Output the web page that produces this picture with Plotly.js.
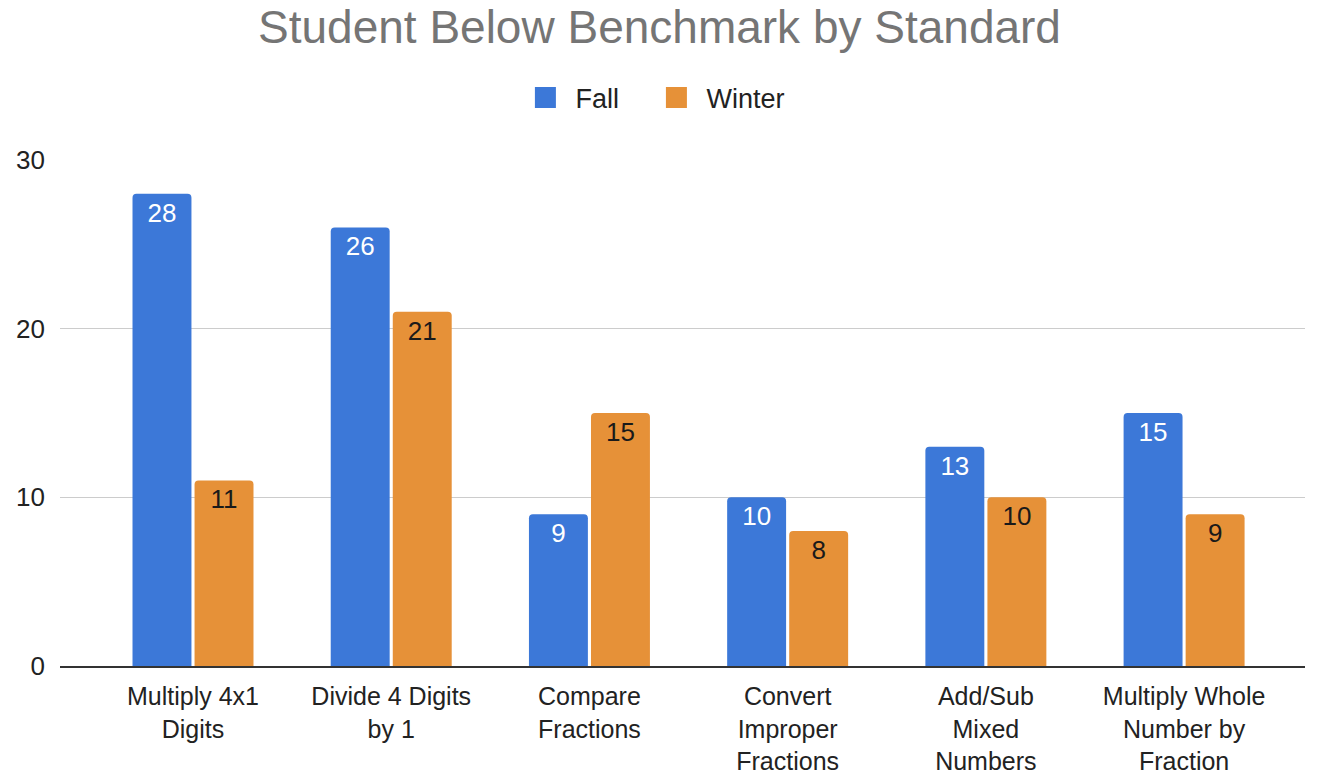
<!DOCTYPE html>
<html>
<head>
<meta charset="utf-8">
<script src="https://cdn.plot.ly/plotly-3.0.1.min.js"></script>
<style>html,body{margin:0;padding:0;background:#fff;}#chart{width:1319px;height:777px;}</style>
</head>
<body>
<div id="chart"></div>
<script>
const categories = [
  "Multiply 4x1<br>Digits",
  "Divide 4 Digits<br>by 1",
  "Compare<br>Fractions",
  "Convert<br>Improper<br>Fractions",
  "Add/Sub<br>Mixed<br>Numbers",
  "Multiply Whole<br>Number by<br>Fraction"
];
const fallValues = [28, 26, 9, 10, 13, 15];
const winterValues = [11, 21, 15, 8, 10, 9];
const seriesNames = ["Fall", "Winter"];
const seriesColors = ["#3c78d8", "#e69138"];
const yTicks = [0, 10, 20, 30];

const FONT = "Liberation Sans, Arial, sans-serif";
const PAD = "\u00a0\u00a0\u00a0";

const traces = [
  {
    type: "bar", name: seriesNames[0], x: categories, y: fallValues, showlegend: false,
    text: fallValues.map(String), textposition: "inside", insidetextanchor: "end",
    textangle: 0,
    textfont: {family: FONT, size: 26, color: "#ffffff"},
    marker: {color: seriesColors[0], cornerradius: 4},
    hoverinfo: "none"
  },
  {
    type: "bar", name: seriesNames[1], x: categories, y: winterValues, showlegend: false,
    text: winterValues.map(String), textposition: "inside", insidetextanchor: "end",
    textangle: 0,
    textfont: {family: FONT, size: 26, color: "#1a1a1a"},
    marker: {color: seriesColors[1], cornerradius: 4},
    hoverinfo: "none"
  },
  // legend entries (larger square swatches)
  {
    type: "scatter", mode: "markers", name: seriesNames[0] + PAD, x: [categories[0]], y: [null],
    marker: {symbol: "square", size: 16, color: seriesColors[0], line: {color: seriesColors[0], width: 5}},
    hoverinfo: "none"
  },
  {
    type: "scatter", mode: "markers", name: seriesNames[1], x: [categories[0]], y: [null],
    marker: {symbol: "square", size: 16, color: seriesColors[1], line: {color: seriesColors[1], width: 5}},
    hoverinfo: "none"
  }
];

const layout = {
  width: 1319, height: 777,
  margin: {l: 60, r: 14, t: 160, b: 111},
  paper_bgcolor: "#ffffff", plot_bgcolor: "#ffffff",
  font: {family: FONT, size: 26, color: "#222222"},
  title: {text: "Student Below Benchmark by Standard", x: 0.5, xanchor: "center",
          y: 1 - 27/777, yanchor: "middle",
          font: {family: FONT, size: 46, color: "#757575"}},
  showlegend: true,
  legend: {orientation: "h", x: 0.495, xref: "container", xanchor: "center",
           y: 1 - 98/777, yref: "container", yanchor: "middle",
           font: {family: FONT, size: 27, color: "#222222"}, itemwidth: 50, itemsizing: "trace",
           traceorder: "normal"},
  barmode: "group", bargap: 0.374, bargroupgap: 0.05,
  xaxis: {type: "category", range: [-0.671, 5.61], showgrid: false, zeroline: false,
          showline: true, linecolor: "#333333", linewidth: 2, ticks: "", ticklabelstandoff: 7,
          tickfont: {family: FONT, size: 25, color: "#222222"}, fixedrange: true},
  yaxis: {range: [0, 30], tickvals: yTicks, ticktext: yTicks.map(String), showgrid: true,
          gridcolor: "#cccccc", gridwidth: 1.5, zeroline: false, showline: false, ticks: "",
          ticklabelstandoff: 14,
          tickfont: {family: FONT, size: 26, color: "#222222"}, fixedrange: true}
};

Plotly.newPlot("chart", traces, layout, {displayModeBar: false, staticPlot: true});
</script>
</body>
</html>
